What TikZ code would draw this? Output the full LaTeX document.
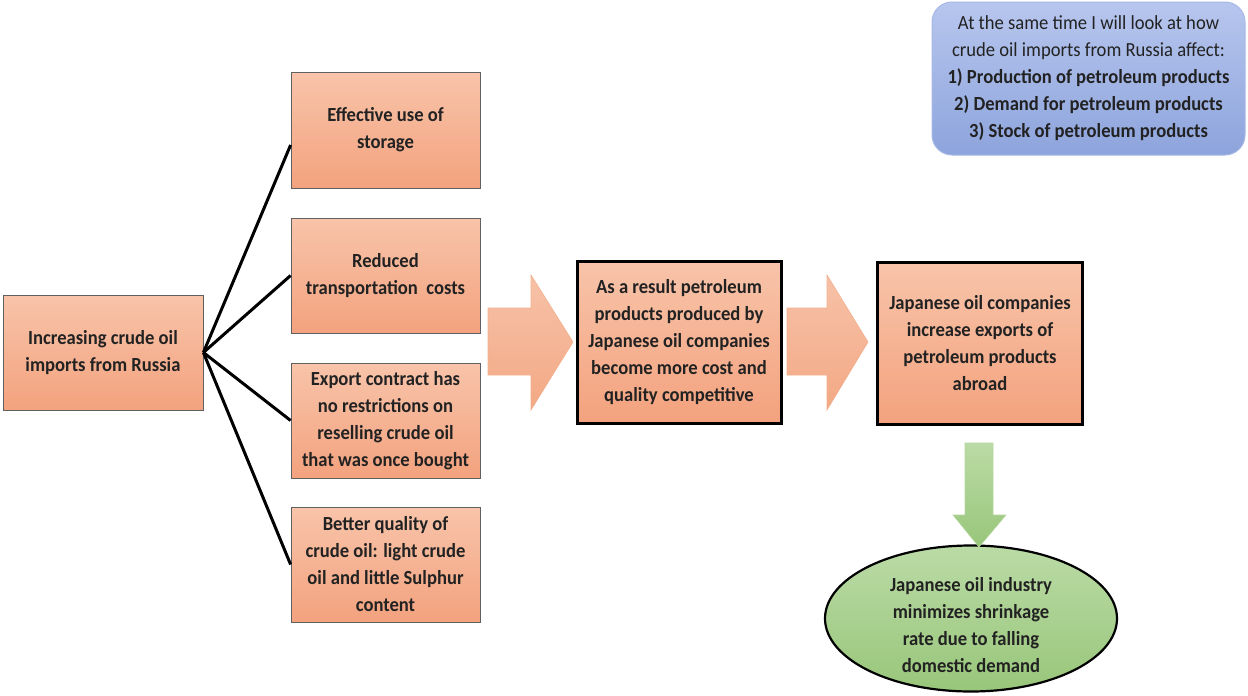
\documentclass[tikz,border=0pt]{standalone}
\usepackage{fontspec}
\setmainfont{Carlito}[FakeStretch=0.93]
\usetikzlibrary{shapes.geometric}
\definecolor{salmonTop}{HTML}{F8C4AA}
\definecolor{salmonBot}{HTML}{F3A27E}
\definecolor{arrowTop}{HTML}{F7C2A8}
\definecolor{arrowBot}{HTML}{F3A884}
\definecolor{arrowEdge}{HTML}{F2B08E}
\definecolor{blueTop}{HTML}{B7C6EE}
\definecolor{blueBot}{HTML}{8DA4DC}
\definecolor{blueEdge}{HTML}{A7B8E6}
\definecolor{greenTop}{HTML}{BBDBA6}
\definecolor{greenBot}{HTML}{98C67A}
\definecolor{textDark}{HTML}{222222}
\begin{document}
\begin{tikzpicture}[x=1pt,y=-1pt,
  lbl/.style={font=\fontsize{20}{27}\selectfont\bfseries, align=center, text=textDark},
  causebox/.style={lbl, rectangle, draw=gray!75!black, line width=0.8pt,
    top color=salmonTop, bottom color=salmonBot, inner sep=0pt,
    minimum width=189pt, minimum height=115pt},
  resultbox/.style={causebox, draw=black, line width=3pt,
    minimum width=204pt, minimum height=162pt},
  blockarrow/.style={top color=arrowTop, bottom color=arrowBot, draw=arrowEdge, line width=0.6pt},
  greenarrow/.style={top color=greenTop, bottom color=greenBot, draw=greenTop!80!greenBot, line width=0.6pt},
  spoke/.style={draw=black, line width=3pt}]
\useasboundingbox (0,0) rectangle (1248,696);

% note box, top right
\node[lbl, rectangle, rounded corners=20pt, draw=blueEdge, line width=1pt,
  top color=blueTop, bottom color=blueBot, minimum width=313pt, minimum height=153pt,
  inner sep=0pt] (note) at (1088.5,78.5)
  {{\mdseries At the same time I will look at how}\\
   {\mdseries crude oil imports from Russia affect:}\\
   1) Production of petroleum products\\
   2) Demand for petroleum products\\
   3) Stock of petroleum products};

% cause and its four effects
\node[causebox, minimum width=200pt] (src) at (103,352.5)
  {Increasing crude oil\\imports from Russia};
\node[causebox, minimum height=116pt] (e1) at (385.5,130) {Effective use of\\storage};
\node[causebox] (e2) at (385.5,275.5) {Reduced\\transportation\ \ costs};
\node[causebox] (e3) at (385.5,420.5)
  {Export contract has\\no restrictions on\\reselling crude oil\\that was once bought};
\node[causebox] (e4) at (385.5,564.5)
  {Better quality of\\crude oil: light crude\\oil and little Sulphur\\content};

\coordinate (e1in) at ([yshift=-15pt]e1.west);
\draw[spoke] (src.east) -- (e1in);
\draw[spoke] (src.east) -- (e2.west);
\draw[spoke] (src.east) -- (e3.west);
\draw[spoke] (src.east) -- (e4.west);

% results
\node[resultbox] (mid) at (679,342)
  {As a result petroleum\\products produced by\\Japanese oil companies\\become more cost and\\quality competitive};
\node[resultbox, minimum width=205pt] (exp) at (980,343.5)
  {Japanese oil companies\\increase exports of\\petroleum products\\abroad};
% the text sits slightly below the centre of the ellipse
\node[ellipse, draw=black, line width=2.2pt, top color=greenTop, bottom color=greenBot,
  minimum width=292pt, minimum height=146pt, inner sep=0pt,
  label={[lbl, yshift=-7pt]center:{Japanese oil industry\\minimizes shrinkage\\rate due to falling\\domestic demand}}]
  (ind) at (971,618.5) {};

% block arrows
\path[blockarrow] (488,308) -- (531,308) -- (531,275) -- (573,342) -- (531,410)
  -- (531,375) -- (488,375) -- cycle;
\path[blockarrow] (787,308) -- (827,308) -- (827,275) -- (868,342) -- (827,410)
  -- (827,375) -- (787,375) -- cycle;
\path[greenarrow] (965,443) -- (993,443) -- (993,515) -- (1006,515) -- (979,547)
  -- (953,515) -- (965,515) -- cycle;
\end{tikzpicture}
\end{document}
